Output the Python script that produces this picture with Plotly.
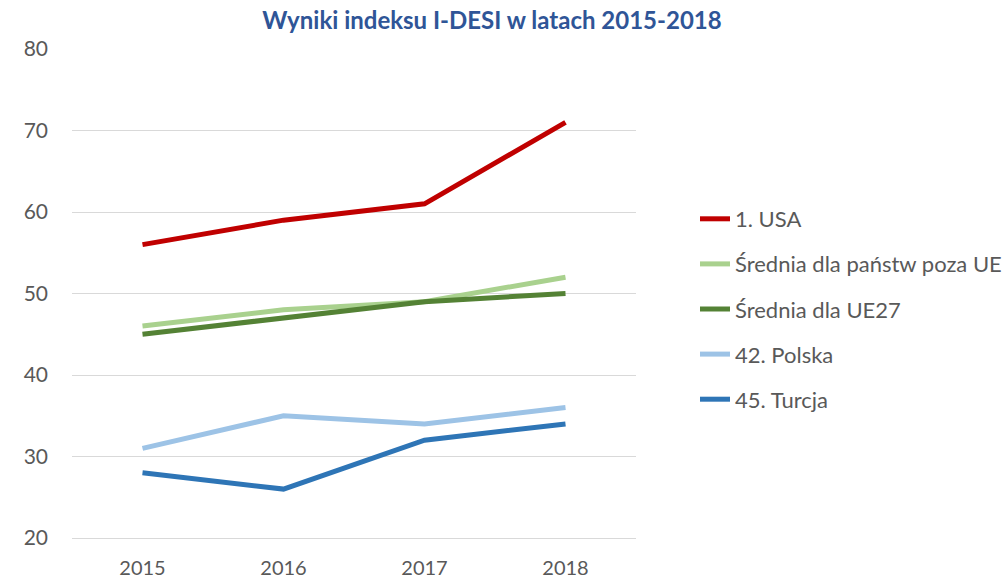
import plotly.graph_objects as go

years = ["2015", "2016", "2017", "2018"]
series_names = ["1. USA", "Średnia dla państw poza UE", "Średnia dla UE27", "42. Polska", "45. Turcja"]
usa = [56, 59, 61, 71]
poza_ue = [46, 48, 49, 52]
ue27 = [45, 47, 49, 50]
polska = [31, 35, 34, 36]
turcja = [28, 26, 32, 34]
y_ticks = [20, 30, 40, 50, 60, 70, 80]

values = [usa, poza_ue, ue27, polska, turcja]
colors = ["#C00000", "#A9D18E", "#548235", "#9DC3E6", "#2E75B6"]

fig = go.Figure()
for i, (name, vals, col) in enumerate(zip(series_names, values, colors)):
    fig.add_trace(go.Scatter(
        x=years, y=vals, name=name, mode="lines",
        line=dict(color=col, width=5),
        legendgroup=f"g{i}",
    ))

font_family = "Lato, Carlito, Calibri, sans-serif"
fig.update_layout(
    width=1006, height=578,
    margin=dict(l=72, r=370, t=49, b=40, autoexpand=False),
    paper_bgcolor="white", plot_bgcolor="white",
    title=dict(text="<b>Wyniki indeksu I-DESI w latach 2015-2018</b>",
               x=492 / 1006, xanchor="center", y=1 - 21 / 578, yanchor="middle",
               font=dict(family=font_family, size=24, color="#2F5597")),
    font=dict(family=font_family, size=20, color="#595959"),
    showlegend=True,
    legend=dict(x=(695 - 72) / 564, xanchor="left", y=0.5 - 15.5 / 489, yanchor="middle",
                font=dict(family=font_family, size=22, color="#595959"),
                tracegroupgap=13.5, itemwidth=30, bgcolor="rgba(0,0,0,0)"),
    xaxis=dict(type="category", range=[-0.5, 3.5], showgrid=False, showline=True,
               linecolor="#D9D9D9", linewidth=1, ticks="", automargin=False,
               tickfont=dict(size=20, color="#595959"), ticklabelstandoff=12),
    yaxis=dict(range=[20, 80], tickvals=y_ticks, showgrid=True, gridcolor="#D9D9D9",
               gridwidth=1, zeroline=False, showline=False, ticks="", automargin=False,
               tickfont=dict(size=21, color="#595959"), ticklabelstandoff=23),
)

fig.write_html("out.html",
               config={"displayModeBar": False},
               post_script="document.body.style.margin='0';document.body.style.overflow='hidden';")
